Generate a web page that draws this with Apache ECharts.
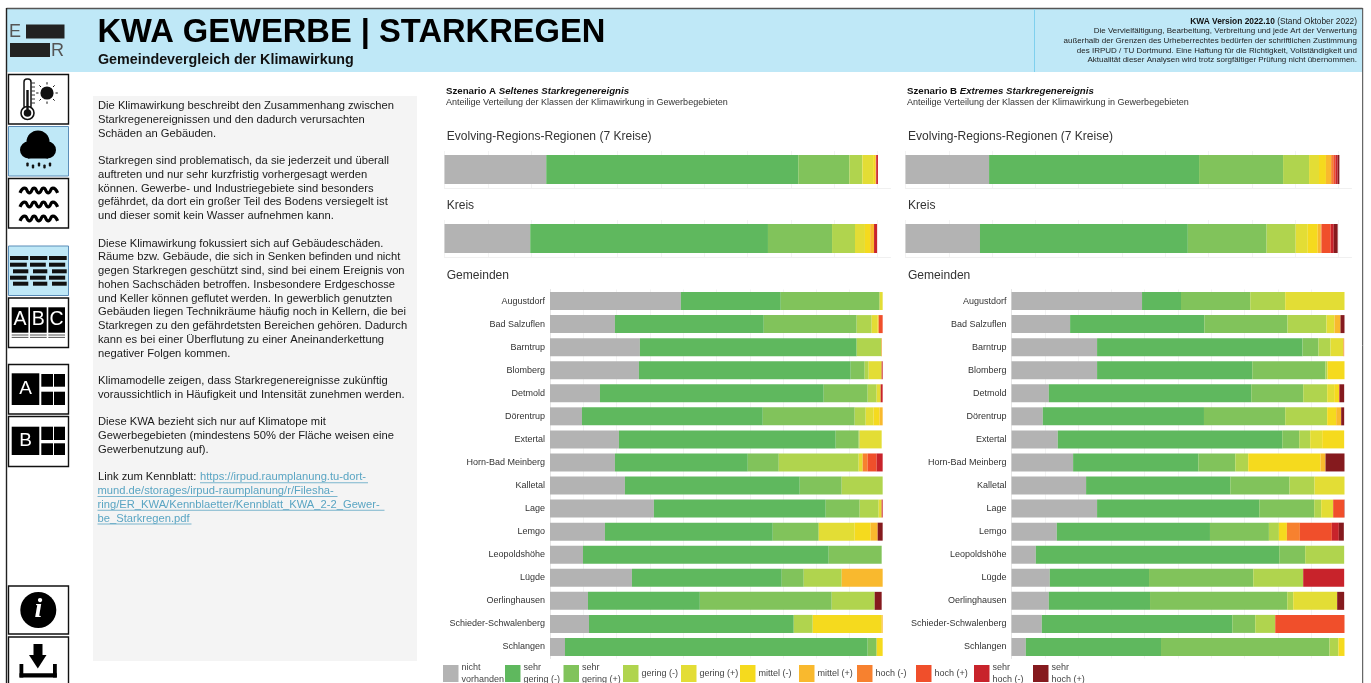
<!DOCTYPE html>
<html><head><meta charset="utf-8">
<style>html,body{margin:0;padding:0;background:#fff;overflow:hidden}#c{width:1371px;height:683px}</style>
<script src="https://cdn.jsdelivr.net/npm/echarts@6/dist/echarts.min.js"></script>
</head><body><div id="c"></div>
<script>
// ---------- data ----------
const classes = ['nicht vorhanden','sehr gering (-)','sehr gering (+)','gering (-)','gering (+)','mittel (-)','mittel (+)','hoch (-)','hoch (+)','sehr hoch (-)','sehr hoch (+)'];
const legendLabels = ['nicht\nvorhanden','sehr\ngering (-)','sehr\ngering (+)','gering (-)','gering (+)','mittel (-)','mittel (+)','hoch (-)','hoch (+)','sehr\nhoch (-)','sehr\nhoch (+)'];
const gemeinden = ['Augustdorf','Bad Salzuflen','Barntrup','Blomberg','Detmold','Dörentrup','Extertal','Horn-Bad Meinberg','Kalletal','Lage','Lemgo','Leopoldshöhe','Lügde','Oerlinghausen','Schieder-Schwalenberg','Schlangen'];
const regionA = [23.5,58.2,11.8,3,2.5,.5,.2,0,0,.4,0];
const kreisA  = [19.8,54.9,14.8,5.3,2.3,1.2,.9,0,0,.7,0];
const regionB = [19.3,48.5,19.4,6,2.3,1.6,1.2,.5,.5,.5,.4];
const kreisB  = [17.2,48,18.2,6.7,2.8,2.3,.7,.2,2.1,.7,.9];
const gemeindenA = [
 [39.3,30,29.7,0,.9,0,0,0,0,0,0],
 [19.5,44.7,27.9,4.5,1.8,.3,0,0,1.2,0,0],
 [27,65.1,0,7.4,0,0,.1,.1,0,0,0],
 [26.7,63.6,4.2,1.2,3.9,0,0,0,0,.3,0],
 [15,67.2,13.2,2.7,1.2,0,0,0,0,.6,0],
 [9.6,54.3,27.6,3.3,2.4,1.8,.9,0,0,0,0],
 [20.7,65.1,6.9,.3,6.6,0,0,0,0,0,0],
 [19.5,39.9,9.3,24,1.2,0,0,1.5,2.7,1.8,0],
 [22.5,52.5,12.6,12.3,0,0,0,0,0,0,0],
 [31.2,51.6,10.2,5.7,.9,0,0,0,0,.3,0],
 [16.5,50.4,13.8,0,10.8,4.8,2.1,0,0,0,1.5],
 [9.9,73.8,15.9,0,0,0,0,0,0,0,0],
 [24.6,45,6.6,11.4,0,0,12.3,0,0,0,0],
 [11.4,33.6,39.6,12.9,0,0,0,0,0,0,2.1],
 [11.7,61.5,0,5.7,0,20.7,.3,0,0,0,0],
 [4.5,90.9,2.7,0,0,1.8,0,0,0,0,0]];
const gemeindenB = [
 [39.2,11.7,20.8,10.5,17.8,0,0,0,0,0,0],
 [17.6,40.3,25,11.7,2.4,0,1.8,0,0,0,1.2],
 [25.7,61.7,4.8,3.6,3.9,0,0,.2,0,0,0],
 [25.7,46.6,22,.6,0,5.1,0,0,0,0,.2],
 [11.2,60.8,15.6,7.2,2.1,1.5,0,0,0,.2,1.3],
 [9.4,48.4,24.4,12.6,0,2.7,1.5,0,0,0,.9],
 [13.9,67.4,5.1,3.3,3.6,6.6,0,0,0,0,0],
 [18.5,37.6,11.1,3.9,0,21.7,1.5,0,0,0,5.7],
 [22.4,43.3,17.8,7.5,9,0,0,0,0,0,0],
 [25.7,48.7,16.5,2.1,3.6,0,0,0,3.3,0,.2],
 [13.6,46,17.7,3,0,2.4,0,3.9,9.6,2.1,1.5],
 [7.3,73.1,7.8,11.7,0,0,0,0,0,0,0],
 [11.5,29.8,31.3,15,0,0,0,0,0,12.3,0],
 [11.2,30.4,41.2,1.8,13.2,0,0,0,0,0,2.1],
 [9.1,57.2,6.9,6,0,0,0,0,20.8,0,0],
 [4.3,40.6,50.6,2.7,0,1.8,0,0,0,0,0]];
const colors = ['#b3b3b3','#5fb85e','#81c35b','#b0d44e','#e3dd35','#f5da1e','#f9b92e','#f7812f','#f04f2b','#c8232b','#851a1e'];
const bodyText = [
'Die Klimawirkung beschreibt den Zusammenhang zwischen','Starkregenereignissen und den dadurch verursachten','Schäden an Gebäuden.','',
'Starkregen sind problematisch, da sie jederzeit und überall','auftreten und nur sehr kurzfristig vorhergesagt werden','können. Gewerbe- und Industriegebiete sind besonders','gefährdet, da dort ein großer Teil des Bodens versiegelt ist','und dieser somit kein Wasser aufnehmen kann.','',
'Diese Klimawirkung fokussiert sich auf Gebäudeschäden.','Räume bzw. Gebäude, die sich in Senken befinden und nicht','gegen Starkregen geschützt sind, sind bei einem Ereignis von','hohen Sachschäden betroffen. Insbesondere Erdgeschosse','und Keller können geflutet werden. In gewerblich genutzten','Gebäuden liegen Technikräume häufig noch in Kellern, die bei','Starkregen zu den gefährdetsten Bereichen gehören. Dadurch','kann es bei einer Überflutung zu einer Aneinanderkettung','negativer Folgen kommen.','',
'Klimamodelle zeigen, dass Starkregenereignisse zukünftig','voraussichtlich in Häufigkeit und Intensität zunehmen werden.','',
'Diese KWA bezieht sich nur auf Klimatope mit','Gewerbegebieten (mindestens 50% der Fläche weisen eine','Gewerbenutzung auf).','',
'Link zum Kennblatt:'];
const linkLines = ['https://irpud.raumplanung.tu-dort-','mund.de/storages/irpud-raumplanung/r/Filesha-','ring/ER_KWA/Kennblaetter/Kennblatt_KWA_2-2_Gewer-','be_Starkregen.pdf'];
const versionLines = ['Die Vervielfältigung, Bearbeitung, Verbreitung und jede Art der Verwertung','außerhalb der Grenzen des Urheberrechtes bedürfen der schriftlichen Zustimmung','des IRPUD / TU Dortmund. Eine Haftung für die Richtigkeit, Vollständigkeit und','Aktualität dieser Analysen wird trotz sorgfältiger Prüfung nicht übernommen.'];

// ---------- charts ----------
const FONT = '"Liberation Sans",Arial,sans-serif';
const grids = [], xAxes = [], yAxes = [], series = [];
function addChart(box, cats, rows, axisMax, withLabels){
  const i = grids.length;
  grids.push(Object.assign({containLabel:false}, box));
  xAxes.push({gridIndex:i,type:'value',min:0,max:axisMax,interval:10,
    axisLabel:{show:false},axisTick:{show:false},
    axisLine:{show:!withLabels,onZero:false,lineStyle:{color:'#f0f0f0',width:1}},
    splitLine:{show:true,showMaxLine:false,lineStyle:{color:'#f3f3f3',width:1}}});
  yAxes.push({gridIndex:i,type:'category',inverse:true,data:cats,
    axisTick:{show:false},axisLine:{show:withLabels,lineStyle:{color:'#e6e6e6',width:1}},
    axisLabel:{show:withLabels,margin:5,fontFamily:FONT,fontSize:9,color:'#333'}});
  classes.forEach((name,k)=>{
    series.push({type:'bar',name,stack:'s'+i,xAxisIndex:i,yAxisIndex:i,barWidth:box.height>100?18:29,
      itemStyle:{color:colors[k]},animation:false,silent:true,
      data:rows.map(r=>r[k])});
  });
}
addChart({left:444.5,top:151,width:446,height:37},['Region'],[regionA],103,false);
addChart({left:444.5,top:220,width:446,height:37},['Kreis'],[kreisA],103,false);
addChart({left:550,top:289.5,width:333,height:369},gemeinden,gemeindenA,100,true);
addChart({left:905.5,top:151,width:446,height:37},['Region'],[regionB],103,false);
addChart({left:905.5,top:220,width:446,height:37},['Kreis'],[kreisB],103,false);
addChart({left:1011.5,top:289.5,width:333,height:369},gemeinden,gemeindenB,100,true);

const legendLeft = [443,505,563.5,623,681,740,799,857,916,974,1033];
const legends = classes.map((name,k)=>{
  const two = legendLabels[k].includes('\n');
  return {data:[name],left:legendLeft[k],top:two?662:665,icon:'rect',itemWidth:15.5,itemHeight:17,itemGap:0,
    selectedMode:false,padding:0,
    formatter:()=>legendLabels[k],
    textStyle:{fontFamily:FONT,fontSize:9,lineHeight:11.5,color:'#444',padding:[0,0,0,-2]}};
});

// ---------- page furniture ----------
const g = [];
const BLUE='#bfe8f7';
function R(x,y,w,h,fill,stroke,lw,r){g.push({type:'rect',shape:{x,y,width:w,height:h,r:r||0},style:{fill:fill||'none',stroke:stroke||null,lineWidth:lw||0}});}
function C(cx,cy,r,fill,stroke,lw){g.push({type:'circle',shape:{cx,cy,r},style:{fill:fill||'none',stroke:stroke||null,lineWidth:lw||0}});}
function L(x1,y1,x2,y2,stroke,lw){g.push({type:'line',shape:{x1,y1,x2,y2},style:{stroke,lineWidth:lw||1}});}
function P(points,fill){g.push({type:'polygon',shape:{points},style:{fill}});}
function T(x,y,text,o){g.push({type:'text',style:Object.assign({x,y,text,fontFamily:FONT,fontSize:11,fill:'#222',align:'left',verticalAlign:'middle'},o||{})});}

R(7,9,1355.5,63,BLUE);
L(6.5,8.5,1362.5,8.5,'#555',1.3);
L(6.5,8,6.5,683,'#222',1.4);
L(1362.7,8,1362.7,683,'#444',1);
L(1034.5,9,1034.5,72,'#7fd0ee',1);

// logo
T(9,32.5,'E',{fontSize:18,fill:'#555'});
R(26,24.5,38.5,14,'#222');
R(10,43,40,14,'#222');
T(51,51,'R',{fontSize:18,fill:'#555'});

T(97.5,33,'KWA GEWERBE | STARKREGEN',{fontSize:32.7,fontWeight:'bold',fill:'#000'});
T(98,60,'Gemeindevergleich der Klimawirkung',{fontSize:14.3,fontWeight:'bold',fill:'#111'});

T(1357,21.7,'{b|KWA Version 2022.10}{n| (Stand Oktober 2022)}',{align:'right',fontSize:8,fill:'#222',rich:{b:{fontWeight:'bold',fontSize:8.4,fontFamily:FONT,fill:'#111'},n:{fontSize:8.3,fontFamily:FONT,fill:'#222'}}});
versionLines.forEach((s,i)=>T(1357,31.2+i*9.6,s,{align:'right',fontSize:8,fill:'#222'}));

// side boxes
function box(y,h,active){R(8.5,y,60,h,active?BLUE:'#fff',active?'#5b8db8':'#111',active?1:1.4);}
box(74.5,49.5); box(126.5,49.5,1); box(178.5,49.5); box(246,49.5,1); box(298,49.5); box(364.5,49.5); box(416.5,50); box(586,48); box(637,50);

// thermometer + sun
R(24,79,7,30,'#fff','#111',1.5,3);
for(let y=83;y<=105;y+=4)L(31,y,35,y,'#333',1);
C(27.5,113,6.5,'#fff','#111',1.6); C(27.5,113,3.8,'#111'); R(26.3,90,2.4,22,'#111');
C(47,93,6.6,'#111');
for(let a=0;a<8;a++){const t=a*Math.PI/4;L(47+Math.cos(t)*8.5,93+Math.sin(t)*8.5,47+Math.cos(t)*10.8,93+Math.sin(t)*10.8,'#111',1);}

// rain cloud
C(38,142,11.5,'#000'); C(28.5,150,8.5,'#000'); C(47.5,150,8.5,'#000'); R(28,150,20,8.5,'#000');
[[27.5,164],[33,166],[39,164],[44.5,166],[50,164]].forEach(p=>{R(p[0]-1.2,p[1]-1.5,2.4,4,'#111',null,0,1);});

// waves
[190.5,204.5,218.5].forEach(y=>{
  const pts=[];for(let k=0;k<=8;k++)pts.push([20+k*4.7,y+(k%2?-2.4:2.4)]);
  g.push({type:'polyline',shape:{points:pts,smooth:.6},style:{stroke:'#000',lineWidth:3.2,fill:'none'}});
});

// table icon
[[10,18.3],[30,17.3],[49,17.7]].forEach(c=>{
  [256,262.7,269.3,275.7,281.7].forEach((y,j)=>{
    const inset=j===0?0:(j%2?1.5:3);
    R(c[0]+(j%2?0:inset),y,c[1]-inset,4,'#111');
  });
});

// ABC icon
[[11.7,'A'],[30,'B'],[48.3,'C']].forEach(a=>{
  R(a[0],307.3,16.7,25.4,'#000');
  T(a[0]+8.35,320,a[1],{align:'center',fontSize:19.5,fill:'#fff'});
  L(a[0],335,a[0]+16.7,335,'#555',1);L(a[0],337.4,a[0]+16.7,337.4,'#555',1);
});

// A / B map icons
function mapIcon(y0,y1,y2,y3,y4,label){
  R(11.7,y0,27.6,y4-y0,'#000');
  T(25.5,(y0+y4)/2,label,{align:'center',fontSize:19,fill:'#fff'});
  R(41.3,y1,11.7,y2-y1,'#000');R(54,y1,11,y2-y1,'#000');
  R(41.3,y3,11.7,y4-y3,'#000');R(54,y3,11,y4-y3,'#000');
}
mapIcon(373.3,374,386.7,391.7,405,'A');
mapIcon(426.7,426.7,440,443.3,455,'B');

// info
C(38.3,610,18,'#000');
T(38.3,610,'i',{align:'center',fontSize:28,fontWeight:'bold',fontStyle:'italic',fontFamily:'"Liberation Serif",serif',fill:'#fff'});

// download
R(33.5,644,9,11.5,'#000');
P([[29,655],[46.5,655],[37.8,668.5]],'#000');
R(19.5,664,3.8,13.5,'#000');R(53,664,3.8,13.5,'#000');R(19.5,673.2,37.3,4.3,'#000');

// text panel
R(93,96,324,565,'#f4f4f4');
const LH=13.75;
bodyText.forEach((s,i)=>{if(s)T(98,106+i*LH,s,{fontSize:11.2,fill:'#1a1a1a'});});
const LINK='#5aa5c3';
const linkX=[200,97.5,97.5,97.5], linkW=[168,240,287,94];
linkLines.forEach((s,i)=>{
  const y=106+(27+i)*LH;
  T(linkX[i],y,s,{fontSize:11.2,fill:LINK});
  L(linkX[i],y+5.5,linkX[i]+linkW[i],y+5.5,LINK,.8);
});

// scenario headers and panel titles
function rich(){return {a:{fontWeight:'bold',fontSize:9.7,fontFamily:FONT,fill:'#111'},b:{fontWeight:'bold',fontStyle:'italic',fontSize:9.7,fontFamily:FONT,fill:'#111'}};}
T(446,91.5,'{a|Szenario A }{b|Seltenes Starkregenereignis}',{rich:rich()});
T(446,103,'Anteilige Verteilung der Klassen der Klimawirkung in Gewerbegebieten',{fontSize:9,fill:'#333'});
T(907,91.5,'{a|Szenario B }{b|Extremes Starkregenereignis}',{rich:rich()});
T(907,103,'Anteilige Verteilung der Klassen der Klimawirkung in Gewerbegebieten',{fontSize:9,fill:'#333'});
[[446.7,1],[908,1]].forEach(a=>{
  T(a[0],136.5,'Evolving-Regions-Regionen (7 Kreise)',{fontSize:12.05,fill:'#333'});
  T(a[0],206,'Kreis',{fontSize:12.05,fill:'#333'});
  T(a[0],275.5,'Gemeinden',{fontSize:12.05,fill:'#333'});
});

const chart = echarts.init(document.getElementById('c'),null,{renderer:'canvas',width:1371,height:683});
chart.setOption({animation:false,backgroundColor:'#fff',tooltip:{show:false},
  grid:grids,xAxis:xAxes,yAxis:yAxes,series,legend:legends,graphic:{elements:g}});
</script></body></html>
